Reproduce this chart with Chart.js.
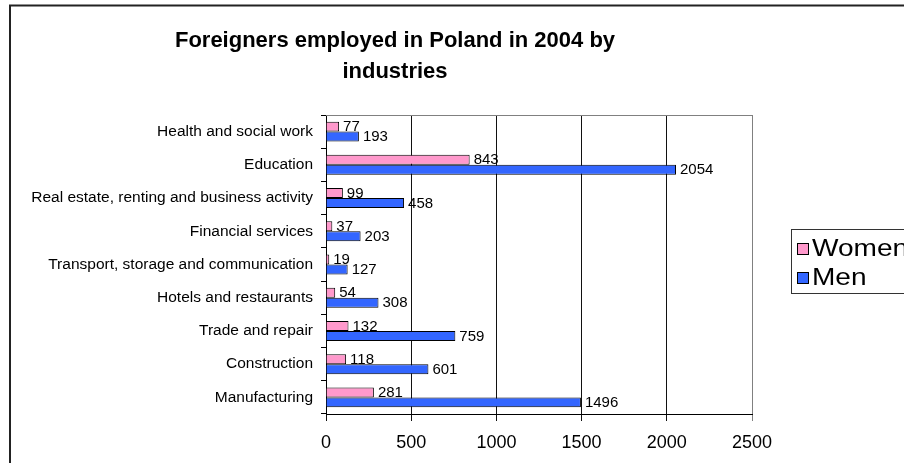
<!DOCTYPE html>
<html lang="en">
<head>
    <meta charset="UTF-8">
    <title>Foreigners employed in Poland in 2004 by industries</title>
    <script src="https://cdn.jsdelivr.net/npm/chart.js"></script>
    <style>
        html, body {
            margin: 0;
            padding: 0;
            background: #ffffff;
            overflow: hidden;
        }

        #chart {
            display: block;
        }
    </style>
</head>
<body>
    <canvas id="chart" width="904" height="463"></canvas>

    <script>
    // Werte
    const titleLines = ['Foreigners employed in Poland in 2004 by', 'industries'];
    const industries = [
        'Health and social work',
        'Education',
        'Real estate, renting and business activity',
        'Financial services',
        'Transport, storage and communication',
        'Hotels and restaurants',
        'Trade and repair',
        'Construction',
        'Manufacturing'
    ];
    const women = [77, 843, 99, 37, 19, 54, 132, 118, 281];
    const men = [193, 2054, 458, 203, 127, 308, 759, 601, 1496];
    const xTicks = [0, 500, 1000, 1500, 2000, 2500];

    const FONT = "'Liberation Sans', Arial, sans-serif";

    // Rahmen links/oben, Titel und graue Oberkante der Plotfläche
    const framePlugin = {
        id: 'frame',
        beforeDraw(chart) {
            const c = chart.ctx;
            c.save();
            c.strokeStyle = '#222';
            c.lineWidth = 2;
            c.beginPath();
            c.moveTo(10, 470);
            c.lineTo(10, 5.5);
            c.lineTo(910, 5.5);
            c.stroke();

            // Titel sitzt im Original etwas rechts von der Plotmitte
            c.font = 'bold 22px ' + FONT;
            c.fillStyle = '#000';
            c.textAlign = 'center';
            c.textBaseline = 'middle';
            titleLines.forEach((t, i) => c.fillText(t, 395, 41 + i * 31));
            c.restore();
        },
        beforeDatasetsDraw(chart) {
            const a = chart.chartArea;
            const c = chart.ctx;
            c.save();
            c.strokeStyle = '#808080';
            c.lineWidth = 1;
            c.beginPath();
            c.moveTo(a.left, a.top + 0.5);
            c.lineTo(a.right, a.top + 0.5);
            c.stroke();
            c.restore();
        }
    };

    // Zahlen rechts neben den Balken
    const valueLabels = {
        id: 'valueLabels',
        afterDatasetsDraw(chart) {
            const c = chart.ctx;
            c.save();
            c.font = '15px ' + FONT;
            c.fillStyle = '#000';
            c.textAlign = 'left';
            c.textBaseline = 'middle';
            chart.data.datasets.forEach((ds, i) => {
                chart.getDatasetMeta(i).data.forEach((bar, j) => {
                    c.fillText(ds.data[j], bar.x + 4, bar.y + 0.5);
                });
            });
            c.restore();
        }
    };

    // Legende rechts (läuft über den Bildrand hinaus wie im Original)
    const sideLegend = {
        id: 'sideLegend',
        afterDraw(chart) {
            const c = chart.ctx;
            c.save();
            c.strokeStyle = '#333';
            c.lineWidth = 1;
            c.strokeRect(791.5, 229.5, 200, 64);
            c.textBaseline = 'middle';
            c.textAlign = 'left';
            chart.data.datasets.forEach((ds, i) => {
                const y = 243 + i * 29;
                c.fillStyle = ds.backgroundColor;
                c.fillRect(797, y, 12, 12);
                c.strokeStyle = '#000';
                c.strokeRect(797.5, y + 0.5, 11, 11);
                // Schrift im Original etwas breiter
                c.save();
                c.translate(812, y + 7);
                c.scale(1.22, 1);
                c.font = '23px ' + FONT;
                c.fillStyle = '#000';
                c.fillText(ds.label, 0, 0);
                c.restore();
            });
            c.restore();
        }
    };

    new Chart(document.getElementById('chart'), {
        type: 'bar',
        data: {
            labels: industries,
            datasets: [
                {
                    label: 'Women',
                    data: women,
                    backgroundColor: '#FF99CC',
                    borderColor: '#000',
                    borderWidth: 1,
                    barPercentage: 1,
                    categoryPercentage: 0.6
                },
                {
                    label: 'Men',
                    data: men,
                    backgroundColor: '#3366FF',
                    borderColor: '#000',
                    borderWidth: 1,
                    barPercentage: 1,
                    categoryPercentage: 0.6
                }
            ]
        },
        options: {
            indexAxis: 'y',
            responsive: false,
            animation: false,
            devicePixelRatio: 1,
            layout: {
                padding: { top: 115, left: 0, right: 152, bottom: 0 }
            },
            plugins: {
                legend: { display: false },
                tooltip: { enabled: false },
                title: { display: false }
            },
            scales: {
                x: {
                    min: 0,
                    max: 2500,
                    afterBuildTicks(scale) {
                        scale.ticks = xTicks.map(v => ({ value: v }));
                    },
                    afterFit(scale) {
                        scale.height = 49;
                    },
                    ticks: {
                        color: '#000',
                        font: { family: FONT, size: 18 },
                        padding: 11,
                        maxRotation: 0,
                        callback: v => String(v)
                    },
                    grid: {
                        color: ctx => (ctx.tick && ctx.tick.value === 2500 ? '#808080' : '#111'),
                        tickLength: 7
                    },
                    border: { color: '#000' }
                },
                y: {
                    afterFit(scale) {
                        scale.width = 326;
                    },
                    ticks: {
                        color: '#000',
                        font: { family: FONT, size: 15.5 },
                        padding: 8,
                        autoSkip: false
                    },
                    grid: {
                        drawOnChartArea: false,
                        color: '#000',
                        tickLength: 5
                    },
                    border: { color: '#000' }
                }
            }
        },
        plugins: [framePlugin, valueLabels, sideLegend]
    });
    </script>
</body>
</html>
